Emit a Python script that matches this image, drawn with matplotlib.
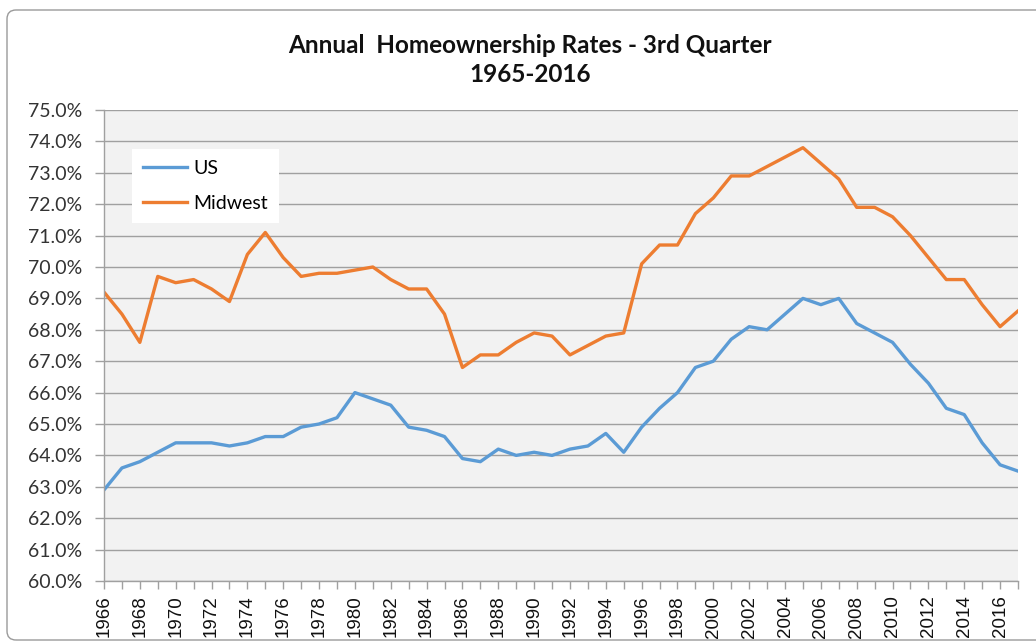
import matplotlib
matplotlib.use("Agg")
import matplotlib.pyplot as plt
from matplotlib.patches import FancyBboxPatch
from matplotlib.ticker import FixedLocator, FuncFormatter

years = list(range(1966, 2018))
us = [62.9, 63.6, 63.8, 64.1, 64.4, 64.4, 64.4, 64.3, 64.4, 64.6,
      64.6, 64.9, 65.0, 65.2, 66.0, 65.8, 65.6, 64.9, 64.8, 64.6,
      63.9, 63.8, 64.2, 64.0, 64.1, 64.0, 64.2, 64.3, 64.7, 64.1,
      64.9, 65.5, 66.0, 66.8, 67.0, 67.7, 68.1, 68.0, 68.5, 69.0,
      68.8, 69.0, 68.2, 67.9, 67.6, 66.9, 66.3, 65.5, 65.3, 64.4,
      63.7, 63.5]
midwest = [69.2, 68.5, 67.6, 69.7, 69.5, 69.6, 69.3, 68.9, 70.4, 71.1,
           70.3, 69.7, 69.8, 69.8, 69.9, 70.0, 69.6, 69.3, 69.3, 68.5,
           66.8, 67.2, 67.2, 67.6, 67.9, 67.8, 67.2, 67.5, 67.8, 67.9,
           70.1, 70.7, 70.7, 71.7, 72.2, 72.9, 72.9, 73.2, 73.5, 73.8,
           73.3, 72.8, 71.9, 71.9, 71.6, 71.0, 70.3, 69.6, 69.6, 68.8,
           68.1, 68.6]
series_names = ["US", "Midwest"]
title_text = "Annual  Homeownership Rates - 3rd Quarter\n1965-2016"
label_years = [y for y in years if y % 2 == 0]

W, H = 1036, 643
fig = plt.figure(figsize=(W / 100, H / 100), dpi=100)
fig.patch.set_facecolor("white")

# outer rounded chart border
border = FancyBboxPatch((7, 3), 1060, 630,
                        boxstyle="round,pad=0,rounding_size=9",
                        transform=None, facecolor="none",
                        edgecolor="#9a9a9a", linewidth=1.0)
fig.patches.append(border)

left, right, top, bottom = 104, 1018, 110, 581
ax = fig.add_axes([left / W, (H - bottom) / H, (right - left) / W, (bottom - top) / H])
ax.set_facecolor("#f2f2f2")

ax.plot(years, us, color="#5b9bd5", lw=2.4, label=series_names[0], solid_joinstyle="round")
ax.plot(years, midwest, color="#ed7d31", lw=2.4, label=series_names[1], solid_joinstyle="round")

ax.set_xlim(years[0], years[-1])
ax.set_ylim(60, 75)

ax.yaxis.set_major_locator(FixedLocator([60 + i for i in range(16)]))
ax.yaxis.set_major_formatter(FuncFormatter(lambda v, p: f"{v:.1f}%"))
ax.grid(axis="y", color="#a0a0a0", lw=1.0)
ax.set_axisbelow(True)

ax.xaxis.set_major_locator(FixedLocator(label_years))
ax.xaxis.set_minor_locator(FixedLocator([y for y in years if y % 2 == 1]))
ax.set_xticklabels([str(y) for y in label_years], rotation=90,
                   fontfamily="Liberation Sans", fontsize=13.5, color="#111111")

for lab in ax.get_yticklabels():
    lab.set_fontfamily("Lato")
    lab.set_fontsize(14)
    lab.set_color("#333333")

ax.tick_params(axis="y", which="major", length=6.5, width=1, color="#a0a0a0", pad=9.5)
ax.tick_params(axis="x", which="both", length=5.5, width=1, color="#a0a0a0", pad=5)

for s in ["top", "right"]:
    ax.spines[s].set_visible(False)
for s in ["left", "bottom"]:
    ax.spines[s].set_color("#a0a0a0")
    ax.spines[s].set_linewidth(1.0)

leg = ax.legend(loc="upper left", bbox_to_anchor=((132 - left) / (right - left), (bottom - 149) / (bottom - top)),
                frameon=True, fancybox=False, framealpha=1, edgecolor="white",
                facecolor="white", prop={"family": "Lato", "size": 14},
                handlelength=2.3, handletextpad=0.3, labelspacing=0.95,
                borderpad=0.55, borderaxespad=0)
leg.get_frame().set_linewidth(0)

fig.text(530 / W, 1 - 60 / H, title_text, ha="center", va="center",
         fontfamily="Lato", fontweight="bold", fontsize=17.5, linespacing=1.3,
         color="#111111")

fig.savefig("out.png", dpi=100)
